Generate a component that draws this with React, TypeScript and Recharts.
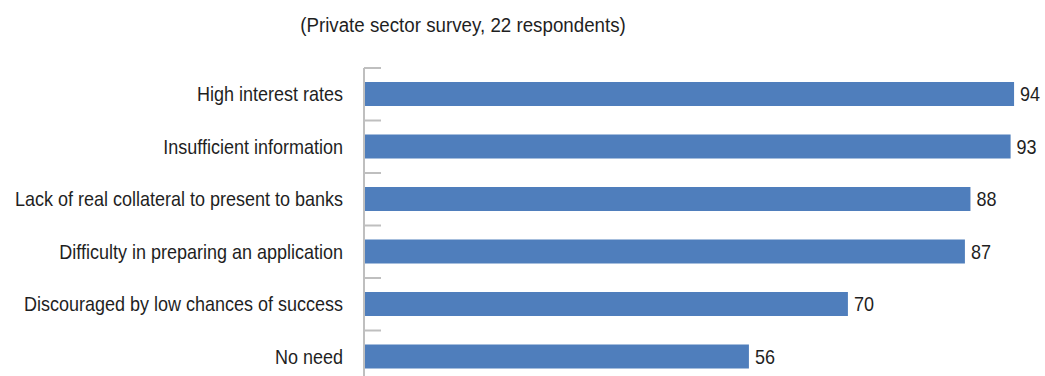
import { BarChart, Bar, XAxis, YAxis, LabelList } from "recharts";

const categories = [
  "High interest rates",
  "Insufficient information",
  "Lack of real collateral to present to banks",
  "Difficulty in preparing an application",
  "Discouraged by low chances of success",
  "No need",
];
// bar lengths; labels show them rounded
const shares = [93.9, 93.4, 87.6, 86.8, 69.9, 55.6];

const data = categories.map((name, i) => ({ name, value: shares[i] }));

const FONT = '"Liberation Sans", Arial, sans-serif';
const BAR = "#4f7ebc";
const AXIS = "#bfbfbf";
const TEXT = "#1f1f1f";
// the reference uses a condensed face; squeeze Liberation Sans horizontally
const SQUEEZE = 0.9;
const TICK_MARGIN = 21;
const TICK_LEN = 17;

// label plus the short divider ticks that sit on band boundaries
function CategoryTick(props: any) {
  const { x, y, payload, index, visibleTicksCount } = props;
  const half = payload.offset || 26.25;
  const ax = x + TICK_MARGIN;
  const isLast = index === visibleTicksCount - 1;
  return (
    <g>
      <line x1={ax} x2={ax + TICK_LEN} y1={y - half} y2={y - half} stroke={AXIS} strokeWidth={2} />
      {isLast && (
        <line x1={ax} x2={ax + TICK_LEN} y1={y + half} y2={y + half} stroke={AXIS} strokeWidth={2} />
      )}
      <g transform={`translate(${x},${y}) scale(${SQUEEZE},1)`}>
        <text x={0} y={0} dy="0.355em" textAnchor="end" fontSize={20} fontFamily={FONT} fill={TEXT}>
          {payload.value}
        </text>
      </g>
    </g>
  );
}

function ValueLabel(props: any) {
  const { x, y, width, height, value } = props;
  const lx = x + width + 6;
  const ly = y + height / 2;
  return (
    <g transform={`translate(${lx},${ly}) scale(${SQUEEZE},1)`}>
      <text x={0} y={0} dy="0.355em" fontSize={20} fontFamily={FONT} fill={TEXT}>
        {Math.round(value)}
      </text>
    </g>
  );
}

export default function App() {
  return (
    <div
      style={{
        position: "absolute",
        left: 0,
        top: 0,
        width: 1045,
        height: 376,
        overflow: "hidden",
        background: "#fff",
        fontFamily: FONT,
      }}
    >
      <div
        style={{
          position: "absolute",
          left: 0,
          top: 13,
          width: 926,
          textAlign: "center",
          fontSize: 20,
          lineHeight: "24px",
          color: TEXT,
          transform: "scaleX(0.937)",
          transformOrigin: "463px 0",
        }}
      >
        (Private sector survey, 22 respondents)
      </div>
      <BarChart
        width={1060}
        height={390}
        data={data}
        layout="vertical"
        margin={{ top: 68, right: 3.7, bottom: 7, left: 0 }}
        style={{ position: "absolute", left: 0, top: 0 }}
      >
        <XAxis type="number" domain={[0, 100]} hide />
        <YAxis
          type="category"
          dataKey="name"
          width={364}
          axisLine={{ stroke: AXIS, strokeWidth: 2 }}
          tickLine={false}
          tickSize={0}
          tickMargin={TICK_MARGIN}
          interval={0}
          tick={<CategoryTick />}
        />
        <Bar dataKey="value" fill={BAR} barSize={24} isAnimationActive={false}>
          <LabelList dataKey="value" content={<ValueLabel />} />
        </Bar>
      </BarChart>
    </div>
  );
}
